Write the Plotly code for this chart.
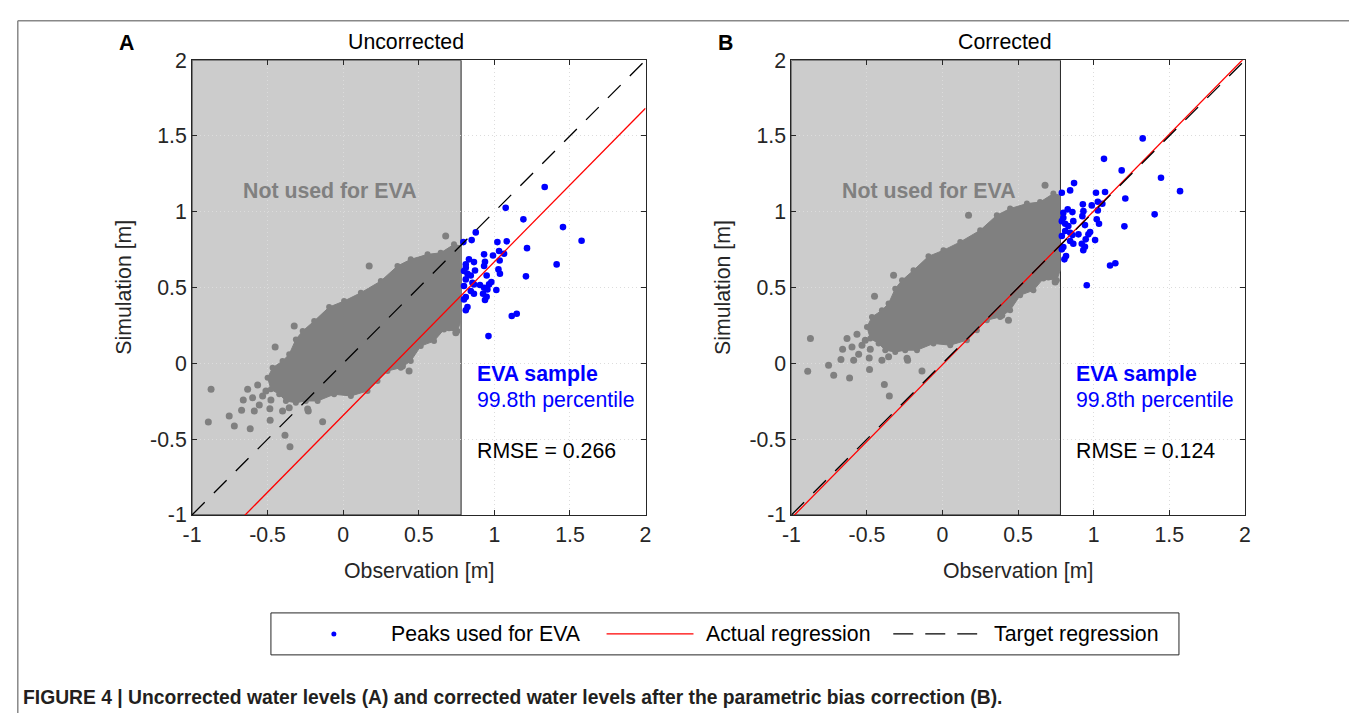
import plotly.graph_objects as go

W, H = 1357, 717
# the page shows the figure slightly inset and scaled; positions below are given in
# reference-picture pixels and converted with this calibration
OX, SX = 15.8, 0.99
OY, SY = 18.8, 0.967

# ---------------- data ----------------
TICK_VALUES = [-1, -0.5, 0, 0.5, 1, 1.5, 2]
TICK_LABELS = ["-1", "-0.5", "0", "0.5", "1", "1.5", "2"]
AXIS_RANGE = [-1, 2]
EVA_THRESHOLD = 0.78
PANEL_TITLES = ["Uncorrected", "Corrected"]
PANEL_LETTERS = ["A", "B"]
RMSE = [0.266, 0.124]
REG_SLOPE = [1.013, 1.013]
REG_INTERCEPT = [-0.343, -0.008]
TARGET_SLOPE = 1.0
TARGET_INTERCEPT = 0.0
CLOUD_SHIFT = [0.0, 0.335]   # parametric bias correction applied to the non-EVA cloud

# envelope of the dense cloud of non-EVA points (uncorrected panel)
cloud_obs = [-0.500, -0.467, -0.401, -0.357, -0.313, -0.268, -0.192, -0.093, 0.006, 0.117,
             0.249, 0.359, 0.447, 0.558, 0.645, 0.733, 0.778, 0.778, 0.756, 0.667,
             0.601, 0.513, 0.447, 0.381, 0.293, 0.227, 0.161, 0.051, -0.060, -0.169,
             -0.247, -0.313, -0.379, -0.423, -0.478]
cloud_sim = [-0.095, -0.029, 0.015, 0.060, 0.158, 0.213, 0.279, 0.371, 0.411, 0.466,
             0.543, 0.642, 0.686, 0.719, 0.729, 0.785, 0.774, 0.279, 0.213, 0.224,
             0.147, 0.114, 0.015, -0.029, -0.050, -0.116, -0.182, -0.215, -0.204, -0.248,
             -0.248, -0.260, -0.248, -0.204, -0.171]

# isolated non-EVA points (uncorrected panel)
outlier_obs = [0.678, 0.172, 0.436, 0.392, 0.700, 0.745, -0.235, -0.324, -0.450, -0.874,
               -0.892, -0.754, -0.720, -0.615, -0.672, -0.661, -0.632, -0.599, -0.566, -0.588,
               -0.555, -0.533, -0.511, -0.478, -0.485, -0.483, -0.401, -0.357, -0.385, -0.352,
               -0.231, -0.136]
outlier_sim = [0.840, 0.642, -0.050, -0.018, 0.235, 0.202, -0.301, 0.246, 0.108, -0.171,
               -0.387, -0.347, -0.413, -0.431, -0.310, -0.242, -0.171, -0.227, -0.143, -0.314,
               -0.275, -0.215, -0.182, -0.242, -0.299, -0.376, -0.314, -0.292, -0.475, -0.550,
               -0.314, -0.385]

# peaks used for EVA
peaks_obs_A = [1.333, 1.075, 1.192, 1.454, 1.577, 0.877, 0.850, 0.795, 1.020, 1.082,
               1.216, 0.932, 0.991, 1.031, 1.064, 0.832, 0.865, 0.938, 1.035, 0.932,
               0.811, 1.027, 1.412, 0.872, 1.037, 0.822, 0.844, 0.949, 1.209, 0.811,
               0.865, 0.905, 0.980, 0.965, 0.932, 1.013, 0.954, 0.844, 0.865, 0.925,
               0.811, 0.949, 0.938, 0.822, 0.811, 1.115, 1.148, 0.961, 0.799, 0.799,
               0.799, 0.811, 0.855]
peaks_sim_A = [1.163, 1.026, 0.950, 0.899, 0.809, 0.864, 0.813, 0.800, 0.800, 0.805,
               0.760, 0.719, 0.712, 0.741, 0.723, 0.686, 0.668, 0.670, 0.679, 0.642,
               0.631, 0.620, 0.653, 0.613, 0.591, 0.591, 0.580, 0.580, 0.574, 0.554,
               0.521, 0.517, 0.536, 0.521, 0.499, 0.484, 0.488, 0.477, 0.459, 0.459,
               0.437, 0.439, 0.418, 0.371, 0.350, 0.312, 0.327, 0.180, 0.422, 0.510,
               0.609, 0.653, 0.532]
peaks_obs_B = [1.324, 1.068, 1.185, 1.445, 0.870, 0.844, 0.789, 1.015, 1.075, 1.571,
               1.209, 0.928, 0.987, 1.027, 1.057, 0.828, 0.859, 0.932, 1.027, 0.925,
               0.799, 1.020, 1.403, 0.865, 1.035, 1.203, 0.811, 0.832, 0.942, 0.976,
               0.965, 0.899, 0.859, 0.811, 0.947, 1.009, 0.844, 0.865, 0.921, 0.799,
               0.942, 0.931, 0.817, 0.806, 1.108, 1.143, 0.954, 0.789, 0.789, 0.789,
               0.799, 0.844]
peaks_sim_B = [1.484, 1.349, 1.273, 1.224, 1.189, 1.141, 1.125, 1.125, 1.130, 1.136,
               1.088, 1.049, 1.042, 1.066, 1.053, 1.016, 0.998, 1.004, 1.009, 0.971,
               0.960, 0.950, 0.983, 0.938, 0.921, 0.904, 0.921, 0.906, 0.912, 0.866,
               0.851, 0.851, 0.846, 0.873, 0.818, 0.813, 0.807, 0.789, 0.789, 0.767,
               0.769, 0.747, 0.708, 0.686, 0.646, 0.660, 0.515, 0.752, 0.840, 0.938,
               0.993, 0.861]
PEAKS_OBS = [peaks_obs_A, peaks_obs_B]
PEAKS_SIM = [peaks_sim_A, peaks_sim_B]

LEGEND_LABELS = ["Peaks used for EVA", "Actual regression", "Target regression"]
CAPTION = ("FIGURE 4 | Uncorrected water levels (A) and corrected water levels after "
           "the parametric bias correction (B).")

# ---------------- style / layout ----------------
FONT = "Liberation Sans, Arial, sans-serif"
FS = 21.3
GREY = "#808080"
SHADE = "#cccccc"
BLUE = "#0000ff"
AXC = "#262626"
TXT = "#262626"

PANEL_X = [(191, 645), (791, 1245)]   # px in reference picture
PANEL_Y = (59, 514)                    # px (top, bottom)


def px(x):
    return ((x - OX) / SX) / W


def py(y):
    return 1 - ((y - OY) / SY) / H


def ann(text, x, y, size=FS, color=TXT, xanchor="center", **kw):
    return dict(text=text, xref="paper", yref="paper", x=px(x), y=py(y), xanchor=xanchor,
                yanchor="middle", showarrow=False,
                font=dict(family=kw.pop("family", FONT), size=size, color=color), **kw)


fig = go.Figure()
annotations = []
shapes = []

for i in range(2):
    xa = "x" if i == 0 else "x2"
    ya = "y" if i == 0 else "y2"
    axis_sfx = "" if i == 0 else "2"
    shift = CLOUD_SHIFT[i]
    csim = [v + shift for v in cloud_sim]

    # dense cloud
    fig.add_trace(go.Scatter(
        x=cloud_obs + [cloud_obs[0]], y=csim + [csim[0]],
        mode="lines", fill="toself", fillcolor=GREY,
        line=dict(color=GREY, width=1), hoverinfo="skip", showlegend=False,
        xaxis=xa, yaxis=ya))
    edge = [k for k, o in enumerate(cloud_obs) if o < EVA_THRESHOLD - 0.02]
    fig.add_trace(go.Scatter(
        x=[cloud_obs[k] for k in edge], y=[csim[k] for k in edge], mode="markers",
        marker=dict(color=GREY, size=6), showlegend=False, hoverinfo="skip",
        xaxis=xa, yaxis=ya))
    # isolated points
    fig.add_trace(go.Scatter(
        x=outlier_obs, y=[v + shift for v in outlier_sim], mode="markers",
        marker=dict(color=GREY, size=7), showlegend=False, xaxis=xa, yaxis=ya))
    # EVA peaks
    fig.add_trace(go.Scatter(
        x=PEAKS_OBS[i], y=PEAKS_SIM[i], mode="markers",
        marker=dict(color=BLUE, size=6.6), showlegend=False, xaxis=xa, yaxis=ya))
    # actual regression
    xs = AXIS_RANGE
    fig.add_trace(go.Scatter(
        x=xs, y=[REG_SLOPE[i] * v + REG_INTERCEPT[i] for v in xs], mode="lines",
        line=dict(color="#ff0000", width=1.3), showlegend=False, xaxis=xa, yaxis=ya))
    # target regression
    fig.add_trace(go.Scatter(
        x=xs, y=[TARGET_SLOPE * v + TARGET_INTERCEPT for v in xs], mode="lines",
        line=dict(color="#000000", width=1.3, dash="18px,13px"),
        showlegend=False, xaxis=xa, yaxis=ya))

    axis_common = dict(
        range=AXIS_RANGE, tickvals=TICK_VALUES, ticktext=TICK_LABELS,
        showline=True, linecolor=AXC, linewidth=1, mirror="ticks",
        ticks="inside", ticklen=5, tickcolor=AXC,
        showgrid=True, gridcolor="#dcdcdc", griddash="1px,3px", gridwidth=1,
        zeroline=False, tickfont=dict(family=FONT, size=FS, color=TXT),
        fixedrange=True,
    )
    fig.update_layout(**{
        "xaxis" + axis_sfx: dict(axis_common, domain=[px(PANEL_X[i][0]), px(PANEL_X[i][1])],
                                 anchor=ya),
        "yaxis" + axis_sfx: dict(axis_common, domain=[py(PANEL_Y[1]), py(PANEL_Y[0])],
                                 anchor=xa),
    })

    # shaded "not used" region
    shapes.append(dict(type="rect", xref=xa, yref=ya, x0=AXIS_RANGE[0], x1=EVA_THRESHOLD,
                       y0=AXIS_RANGE[0], y1=AXIS_RANGE[1], fillcolor=SHADE,
                       line=dict(color=AXC, width=1), layer="below"))

    x0, x1 = PANEL_X[i]
    cx = (x0 + x1) / 2
    annotations.append(ann("<b>" + PANEL_LETTERS[i] + "</b>", x0 - 66, 42, color="#000"))
    annotations.append(ann(PANEL_TITLES[i], cx - 13, 41, color="#000"))
    annotations.append(ann("Observation [m]", cx, 570))
    annotations.append(ann("Simulation [m]", x0 - 69, (PANEL_Y[0] + PANEL_Y[1]) / 2,
                           textangle=-90))
    # in-plot labels (data coordinates)
    for text, xv, yv, col, anchor in [
        ("<b>Not used for EVA</b>", -0.09, 1.136, GREY, "center"),
        ("<b>EVA sample</b>", 0.87, -0.07, BLUE, "left"),
        ("99.8th percentile", 0.87, -0.242, BLUE, "left"),
        ("RMSE = %.3f" % RMSE[i], 0.87, -0.578, "#000", "left"),
    ]:
        annotations.append(dict(text=text, xref=xa, yref=ya, x=xv, y=yv, xanchor=anchor,
                                yanchor="middle", showarrow=False,
                                font=dict(family=FONT, size=FS, color=col)))

# ---------------- manual legend ----------------
LEG = (270, 612, 1179, 654)
fig.update_layout(
    xaxis3=dict(domain=[px(LEG[0]), px(LEG[2])], range=[LEG[0], LEG[2]], visible=False,
                fixedrange=True, anchor="y3"),
    yaxis3=dict(domain=[py(LEG[3]), py(LEG[1])], range=[0, 1], visible=False,
                fixedrange=True, anchor="x3"),
)
shapes.append(dict(type="rect", xref="paper", yref="paper", x0=px(LEG[0]), x1=px(LEG[2]),
                   y0=py(LEG[3]), y1=py(LEG[1]), line=dict(color=AXC, width=1),
                   fillcolor="white", layer="below"))
fig.add_trace(go.Scatter(x=[333], y=[0.5], mode="markers", marker=dict(color=BLUE, size=5),
                         showlegend=False, xaxis="x3", yaxis="y3"))
fig.add_trace(go.Scatter(x=[606, 693], y=[0.5, 0.5], mode="lines",
                         line=dict(color="#ff0000", width=1.3), showlegend=False,
                         xaxis="x3", yaxis="y3"))
fig.add_trace(go.Scatter(x=[893, 977], y=[0.5, 0.5], mode="lines",
                         line=dict(color="#000", width=1.3, dash="20px,12px"),
                         showlegend=False, xaxis="x3", yaxis="y3"))
for lbl, lx in zip(LEGEND_LABELS, [388, 704, 992]):
    annotations.append(ann(lbl, lx, 633, color="#000", xanchor="left"))

# caption
annotations.append(ann("<b>" + CAPTION + "</b>", 20, 697, size=19.3, color="#231f20",
                       xanchor="left",
                       family="Liberation Sans Narrow, Arial Narrow, Liberation Sans"))

# outer frame (left, top, right) in figure paper coordinates
FL, FT, FR = 0.8 / W, 1 - 0.8 / H, px(1355)
for (a, b, c, d) in [(FL, FT, FL, 0), (FL, FT, FR, FT), (FR, FT, FR, 0)]:
    shapes.append(dict(type="line", xref="paper", yref="paper", x0=a, y0=b, x1=c, y1=d,
                       line=dict(color="#888", width=1.5)))

fig.update_layout(
    width=W, height=H, margin=dict(l=0, r=0, t=0, b=0),
    paper_bgcolor="white", plot_bgcolor="white",
    shapes=shapes, annotations=annotations, showlegend=False,
)

fig.write_html("out.html")
